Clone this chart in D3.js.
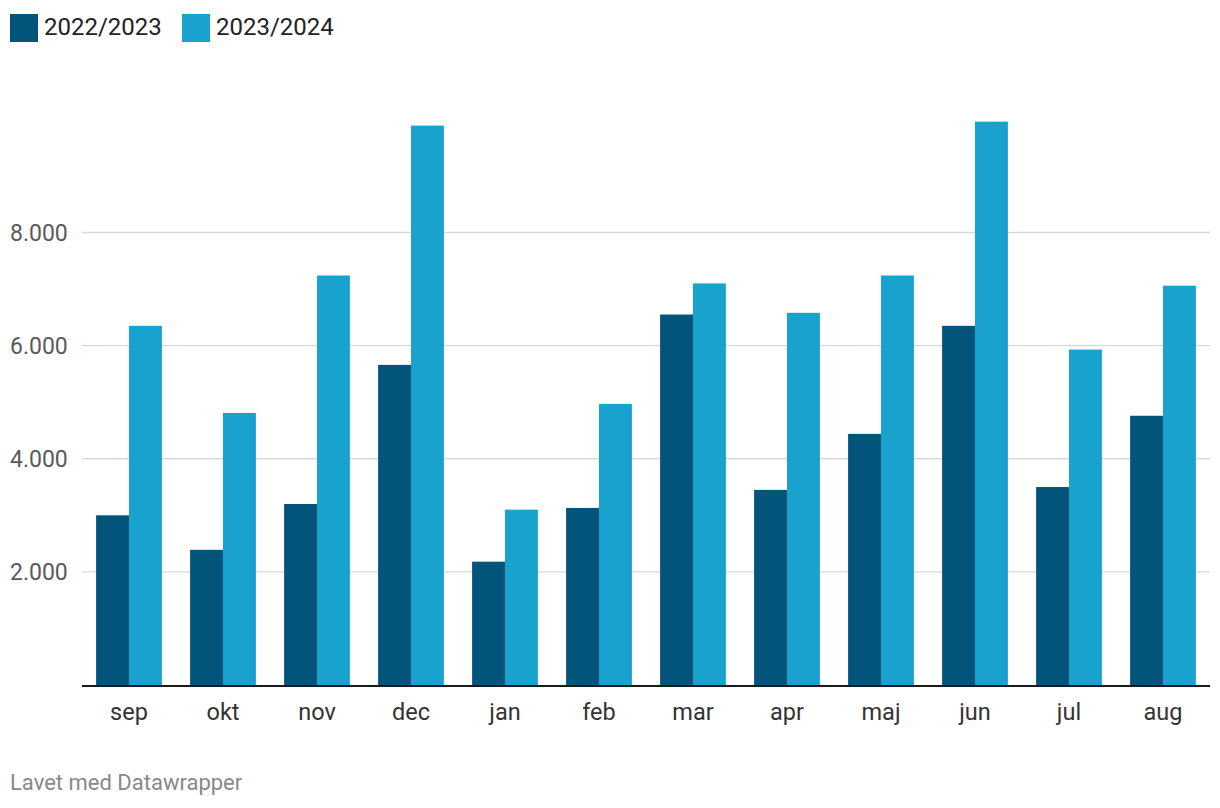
<!DOCTYPE html>
<html><head><meta charset="utf-8">
<script src="https://cdn.jsdelivr.net/npm/d3@7"></script>
<style>body{margin:0;background:#fff;font-family:Roboto,"Noto Sans",sans-serif;}</style>
</head><body><svg id="c" width="1220" height="808"></svg>
<script>
const months = ["sep","okt","nov","dec","jan","feb","mar","apr","maj","jun","jul","aug"];
const seriesNames = ["2022/2023","2023/2024"];
const values2223 = [3000,2390,3200,5660,2180,3130,6550,3450,4440,6350,3500,4760];
const values2324 = [6350,4810,7240,9890,3100,4970,7100,6580,7240,9960,5930,7060];
const yTicks = [2000,4000,6000,8000];
const colors = ["#03547b","#19a2ce"];

const svg = d3.select("#c");
const x0 = d3.scaleBand().domain(months).range([82,1210]).paddingInner(0.3).paddingOuter(0.15);
const x1 = d3.scaleBand().domain(seriesNames).range([0,x0.bandwidth()]);
const y = d3.scaleLinear().domain([0,8000]).range([685,232.5]);
const fmt = d => d3.format(",")(d).replace(/,/g,".");

// gridlines
svg.append("g").selectAll("line").data(yTicks).join("line")
  .attr("x1",82).attr("x2",1210).attr("y1",d=>y(d)).attr("y2",d=>y(d))
  .attr("stroke","#d9d9d9").attr("stroke-width",1.4);
svg.append("g").selectAll("text").data(yTicks).join("text")
  .attr("x",10).attr("y",d=>y(d)+8).text(fmt)
  .attr("font-size",23).attr("fill","#5a5a5a");

// bars
const data = months.map((m,i)=>({m, v:[values2223[i], values2324[i]]}));
const g = svg.append("g").selectAll("g").data(data).join("g")
  .attr("transform",d=>`translate(${x0(d.m)},0)`);
g.selectAll("rect").data(d=>d.v.map((v,j)=>({k:seriesNames[j],v,j}))).join("rect")
  .attr("x",d=>x1(d.k)).attr("width",x1.bandwidth())
  .attr("y",d=>y(d.v)).attr("height",d=>y(0)-y(d.v))
  .attr("fill",d=>colors[d.j]);

// axis line
svg.append("line").attr("x1",82).attr("x2",1210).attr("y1",686).attr("y2",686)
  .attr("stroke","#1a1a1a").attr("stroke-width",2);
svg.append("g").selectAll("text").data(months).join("text")
  .attr("x",d=>x0(d)+x0.bandwidth()/2).attr("y",720).attr("text-anchor","middle")
  .attr("font-size",23.5).attr("fill","#333").text(d=>d);

// legend
const leg = svg.append("g");
const legX = [10,182];
seriesNames.forEach((s,i)=>{
  leg.append("rect").attr("x",legX[i]).attr("y",14).attr("width",28).attr("height",28).attr("fill",colors[i]);
  leg.append("text").attr("x",legX[i]+34).attr("y",35).attr("font-size",24).attr("fill","#222").text(s);
});

svg.append("text").attr("x",10).attr("y",790).attr("font-size",22).attr("fill","#888").text("Lavet med Datawrapper");
</script></body></html>
